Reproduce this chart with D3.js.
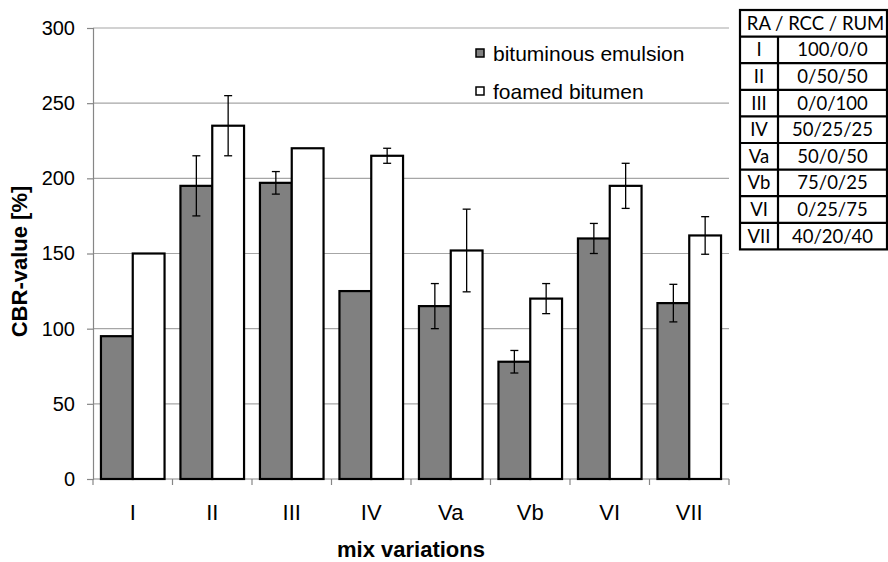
<!DOCTYPE html>
<html>
<head>
<meta charset="utf-8">
<script src="https://cdn.jsdelivr.net/npm/d3@7"></script>
<style>
  html, body { margin: 0; padding: 0; background: #fff; }
  svg { display: block; }
</style>
</head>
<body>
<svg id="chart" width="888" height="562"></svg>
<script>
// CBR values per mix variation, with standard deviations (null = no error bar)
const categories = ["I", "II", "III", "IV", "Va", "Vb", "VI", "VII"];
const seriesNames = ["bituminous emulsion", "foamed bitumen"];
const emulsion = [95, 195, 197, 125, 115, 78, 160, 117];
const emulsionErr = [null, 20, 7.5, null, 15, 7.5, 10, 12.5];
const foamed = [150, 235, 220, 215, 152, 120, 195, 162];
const foamedErr = [null, 20, null, 5, 27.5, 10, 15, 12.5];
const yTicks = [0, 50, 100, 150, 200, 250, 300];

// Mix composition table (RA / RCC / RUM)
const tableHeader = "RA / RCC / RUM";
const compositions = ["100/0/0", "0/50/50", "0/0/100", "50/25/25", "50/0/50", "75/0/25", "0/25/75", "40/20/40"];

const svg = d3.select("#chart");
const plot = { left: 93, right: 729, top: 28, bottom: 479 };
const font = "'Liberation Sans', Arial, sans-serif";

const x = d3.scaleBand().domain(categories).range([plot.left, plot.right]).paddingInner(0.2).paddingOuter(0.1);
const xSub = d3.scaleBand().domain(seriesNames).range([0, x.bandwidth()]);
const y = d3.scaleLinear().domain([0, 300]).range([plot.bottom, plot.top]);

const fills = { "bituminous emulsion": "#808080", "foamed bitumen": "#ffffff" };

// Horizontal gridlines
svg.append("g")
  .selectAll("line")
  .data(yTicks.filter(d => d > 0))
  .join("line")
  .attr("x1", plot.left).attr("x2", plot.right)
  .attr("y1", d => y(d)).attr("y2", d => y(d))
  .attr("stroke", "#a6a6a6").attr("stroke-width", 1.2);

// Y axis
const yAxis = svg.append("g")
  .attr("transform", `translate(${plot.left},0)`)
  .call(d3.axisLeft(y).tickValues(yTicks).tickSize(6).tickPadding(12));
yAxis.select(".domain").attr("stroke", "#868686").attr("stroke-width", 1.2);
yAxis.selectAll(".tick line").attr("stroke", "#868686").attr("stroke-width", 1.2);
yAxis.selectAll(".tick text")
  .attr("font-family", font).attr("font-size", 20).attr("fill", "#000");

// X axis with ticks at category boundaries
const xAxisG = svg.append("g").attr("transform", `translate(0,${plot.bottom})`);
xAxisG.append("line")
  .attr("x1", plot.left).attr("x2", plot.right)
  .attr("stroke", "#868686").attr("stroke-width", 1.2);
const step = x.step();
const boundaries = d3.range(categories.length + 1).map(i => plot.left + i * step);
xAxisG.selectAll("line.tk")
  .data(boundaries)
  .join("line").attr("class", "tk")
  .attr("x1", d => d).attr("x2", d => d)
  .attr("y1", 0).attr("y2", 6)
  .attr("stroke", "#868686").attr("stroke-width", 1.2);
xAxisG.selectAll("text")
  .data(categories)
  .join("text")
  .attr("x", d => x(d) + x.bandwidth() / 2)
  .attr("y", 41)
  .attr("text-anchor", "middle")
  .attr("font-family", font).attr("font-size", 22)
  .text(d => d);

// Bars
const rows = categories.map((c, i) => ({
  cat: c,
  values: [
    { name: seriesNames[0], v: emulsion[i], e: emulsionErr[i] },
    { name: seriesNames[1], v: foamed[i], e: foamedErr[i] }
  ]
}));

const groups = svg.append("g")
  .selectAll("g")
  .data(rows)
  .join("g")
  .attr("transform", d => `translate(${x(d.cat)},0)`);

groups.selectAll("rect")
  .data(d => d.values)
  .join("rect")
  .attr("x", d => xSub(d.name))
  .attr("width", xSub.bandwidth())
  .attr("y", d => y(d.v))
  .attr("height", d => y(0) - y(d.v))
  .attr("fill", d => fills[d.name])
  .attr("stroke", "#000")
  .attr("stroke-width", 2.2);

// Error bars
const capHalf = 4;
const err = groups.selectAll("g.err")
  .data(d => d.values.filter(v => v.e != null))
  .join("g").attr("class", "err")
  .attr("stroke", "#000").attr("stroke-width", 1.3);
err.append("line")
  .attr("x1", d => xSub(d.name) + xSub.bandwidth() / 2)
  .attr("x2", d => xSub(d.name) + xSub.bandwidth() / 2)
  .attr("y1", d => y(d.v + d.e)).attr("y2", d => y(d.v - d.e));
err.append("line")
  .attr("x1", d => xSub(d.name) + xSub.bandwidth() / 2 - capHalf)
  .attr("x2", d => xSub(d.name) + xSub.bandwidth() / 2 + capHalf)
  .attr("y1", d => y(d.v + d.e)).attr("y2", d => y(d.v + d.e));
err.append("line")
  .attr("x1", d => xSub(d.name) + xSub.bandwidth() / 2 - capHalf)
  .attr("x2", d => xSub(d.name) + xSub.bandwidth() / 2 + capHalf)
  .attr("y1", d => y(d.v - d.e)).attr("y2", d => y(d.v - d.e));

// Axis titles
svg.append("text")
  .attr("transform", `translate(27,${(plot.top + plot.bottom) / 2 + 8}) rotate(-90)`)
  .attr("text-anchor", "middle")
  .attr("font-family", font).attr("font-size", 22).attr("font-weight", "bold")
  .text("CBR-value [%]");
svg.append("text")
  .attr("x", (plot.left + plot.right) / 2)
  .attr("y", 557)
  .attr("text-anchor", "middle")
  .attr("font-family", font).attr("font-size", 22).attr("font-weight", "bold")
  .text("mix variations");

// Legend
const legend = svg.append("g").attr("transform", "translate(476,0)");
const legendRows = legend.selectAll("g")
  .data(seriesNames)
  .join("g")
  .attr("transform", (d, i) => `translate(0,${49 + i * 38})`);
legendRows.append("rect")
  .attr("width", 8).attr("height", 8)
  .attr("fill", d => fills[d]).attr("stroke", "#000").attr("stroke-width", 1.5);
legendRows.append("text")
  .attr("x", 17).attr("y", 12)
  .attr("font-family", font).attr("font-size", 21)
  .text(d => d);

// Composition table
const tbl = { left: 740, right: 887, top: 10, rowH: 26.6, divider: 778 };
const tg = svg.append("g");
const nRows = compositions.length + 1;
const tBottom = tbl.top + nRows * tbl.rowH;
tg.append("rect")
  .attr("x", tbl.left).attr("y", tbl.top)
  .attr("width", tbl.right - tbl.left).attr("height", tBottom - tbl.top)
  .attr("fill", "#fff").attr("stroke", "#000").attr("stroke-width", 2.2);
tg.selectAll("line.row")
  .data(d3.range(1, nRows))
  .join("line").attr("class", "row")
  .attr("x1", tbl.left).attr("x2", tbl.right)
  .attr("y1", i => tbl.top + i * tbl.rowH).attr("y2", i => tbl.top + i * tbl.rowH)
  .attr("stroke", "#000").attr("stroke-width", 2.2);
tg.append("line")
  .attr("x1", tbl.divider).attr("x2", tbl.divider)
  .attr("y1", tbl.top + tbl.rowH).attr("y2", tBottom)
  .attr("stroke", "#000").attr("stroke-width", 2.2);
const tFont = "Lato, 'Open Sans', sans-serif";
tg.append("text")
  .attr("x", (tbl.left + tbl.right) / 2 + 2).attr("y", tbl.top + tbl.rowH / 2 + 6.5)
  .attr("text-anchor", "middle")
  .attr("font-family", tFont).attr("font-size", 18.5)
  .text(tableHeader);
tg.selectAll("text.lab")
  .data(categories)
  .join("text").attr("class", "lab")
  .attr("x", (tbl.left + tbl.divider) / 2)
  .attr("y", (d, i) => tbl.top + (i + 1.5) * tbl.rowH + 6.5)
  .attr("text-anchor", "middle")
  .attr("font-family", tFont).attr("font-size", 18.5)
  .text(d => d);
tg.selectAll("text.comp")
  .data(compositions)
  .join("text").attr("class", "comp")
  .attr("x", (tbl.divider + tbl.right) / 2)
  .attr("y", (d, i) => tbl.top + (i + 1.5) * tbl.rowH + 6.5)
  .attr("text-anchor", "middle")
  .attr("font-family", tFont).attr("font-size", 18.5)
  .text(d => d);
</script>
</body>
</html>
